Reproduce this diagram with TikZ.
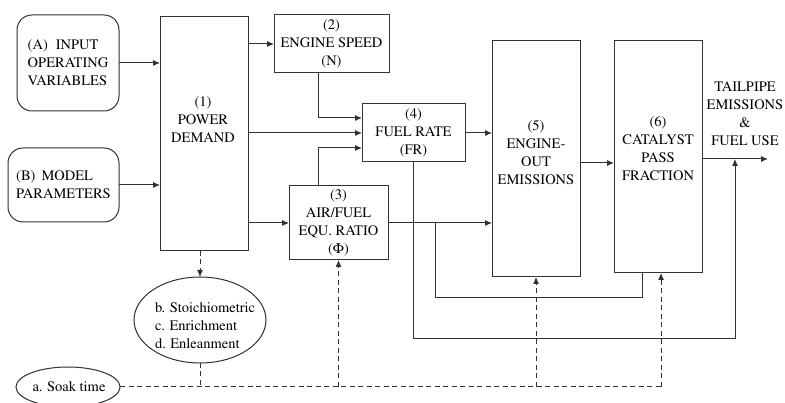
\documentclass[tikz,border=0pt]{standalone}
\usepackage[T1]{fontenc}
\usepackage{mathptmx}
\usetikzlibrary{arrows.meta,shapes.geometric}
\definecolor{linegray}{RGB}{50,50,50}
\begin{document}
\begin{tikzpicture}[x=1pt,y=-1pt,
  every node/.style={font=\fontfamily{ptm}\selectfont\fontsize{14.5}{18}\selectfont, inner sep=0pt, outer sep=0pt},
  box/.style={draw=linegray, line width=1pt, rectangle, align=center},
  rbox/.style={box, rounded corners=15pt},
  oval/.style={draw=linegray, line width=1pt, ellipse},
  lbl/.style={align=center},
  conn/.style={draw=linegray, line width=1pt},
  arr/.style={conn, -{Latex[length=7pt,width=6pt]}},
  dsh/.style={conn, dash pattern=on 5pt off 3.5pt},
  darr/.style={dsh, -{Latex[length=7pt,width=6pt]}},
]
\fill[white] (0,0) rectangle (785,403);
\useasboundingbox (0,0) rectangle (785,403);

% boxes
\node[rbox, minimum width=102, minimum height=96, align=left] (A) at (68,63) {(A)\hspace{8pt}INPUT\\OPERATING\\VARIABLES};
\node[rbox, minimum width=111, minimum height=74, align=left] (B) at (63.5,185) {(B)\hspace{6pt}MODEL\\PARAMETERS};
\node[box, minimum width=88, minimum height=234] (P1) at (204,134) {};
\node[lbl] (P1t) at (203,120) {(1)\\POWER\\DEMAND};
\node[box, minimum width=115, minimum height=58] (P2) at (331.5,44) {(2)\\ENGINE SPEED\\(N)};
\node[box, minimum width=99, minimum height=74] (P3) at (338.5,223) {(3)\\AIR/FUEL\\EQU. RATIO\\($\Phi$)};
\node[box, minimum width=103, minimum height=58] (P4) at (413.5,133) {(4)\\FUEL RATE\\(FR)};
\node[box, minimum width=88, minimum height=236] (P5) at (536,159) {};
\node[lbl] (P5t) at (536,153) {(5)\\ENGINE-\\OUT\\EMISSIONS};
\node[box, minimum width=88, minimum height=232] (P6) at (658,157) {};
\node[lbl] (P6t) at (658,149) {(6)\\CATALYST\\PASS\\FRACTION};
\node[lbl] (OUTt) at (745,114) {TAILPIPE\\EMISSIONS\\\&\\FUEL USE};
\node[oval, minimum width=132, minimum height=86] (E1) at (200,320) {};
\node[align=left, anchor=west] (E1t) at (155,326) {b. Stoichiometric\\c. Enrichment\\d. Enleanment};
\node[oval, minimum width=104, minimum height=40] (S) at (68,387) {};
\node (St) at (69,387) {a. Soak time};

% solid connectors
\draw[arr] (A.east) -- (A.east -| P1.west);
\draw[arr] (B.east) -- (B.east -| P1.west);
\draw[arr] (P1.east |- P2.west) -- (P2.west);
\draw[arr] (P1.east |- P4.west) -- (P4.west);
\draw[arr] (P1.east |- P3.west) -- (P3.west);
\coordinate (c2) at (318,118);
\draw[arr] (c2 |- P2.south) -- (c2) -- (c2 -| P4.west);
\coordinate (c3) at (318,148);
\draw[arr] (c3 |- P3.north) -- (c3) -- (c3 -| P4.west);
\draw[arr] (P4.east) -- (P4.east -| P5.west);
\draw[arr] (P3.east) -- (P3.east -| P5.west);
\coordinate (c56) at (580,163);
\draw[arr] (P5.east |- c56) -- (c56 -| P6.west);
\coordinate (out) at (768,159);
\draw[arr] (P6.east |- out) -- (out);
\coordinate (fo) at (735,339);
\draw[arr] (P4.south) |- (fo) -- (fo |- out);
\coordinate (fi) at (435,298);
\coordinate (fi2) at (642,298);
\draw[conn] (fi |- P3.east) -- (fi) -- (fi2) -- (fi2 |- P6.south);

% dashed connectors
\draw[darr] (E1.north |- P1.south) -- (E1.north);
\draw[dsh] (E1.south) -- (E1.south |- S.east);
\coordinate (d6) at (661,387);
\draw[dsh] (S.east) -- (d6);
\draw[darr] (P3.south |- d6) -- (P3.south);
\draw[darr] (P5.south |- d6) -- (P5.south);
\draw[darr] (d6) -- (d6 |- P6.south);
\end{tikzpicture}
\end{document}
